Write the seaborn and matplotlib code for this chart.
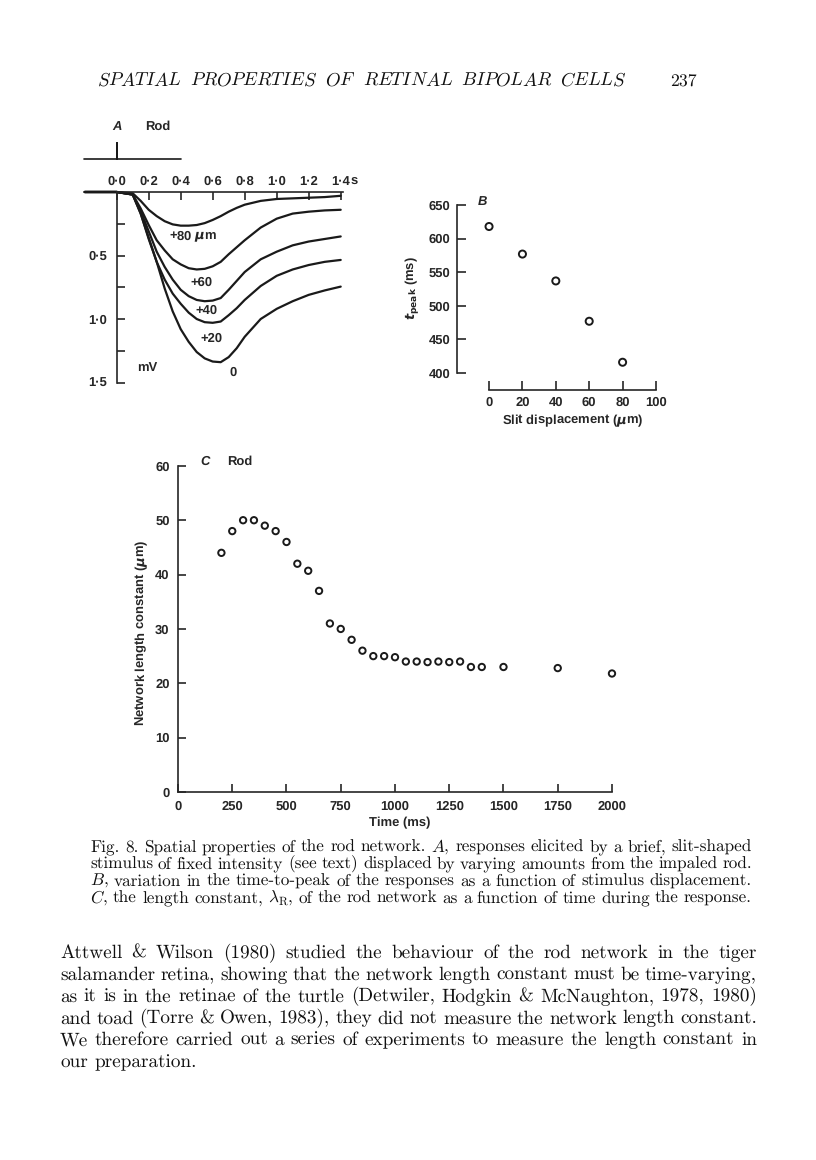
import numpy as np
import pandas as pd
import matplotlib
matplotlib.use("Agg")
import matplotlib.pyplot as plt
import seaborn as sns

# ---------------- data ----------------
# Panel A: fitted responses (mV, hyperpolarizing downwards) vs time (s)
t_A = [-0.2, 0.0, 0.1, 0.15, 0.2, 0.25, 0.3, 0.35, 0.4, 0.45, 0.5, 0.55, 0.6,
       0.65, 0.7, 0.75, 0.8, 0.9, 1.0, 1.1, 1.2, 1.3, 1.4]
v_80 = [0, 0, 0.01, 0.07, 0.14, 0.19, 0.23, 0.255, 0.265, 0.265, 0.26, 0.245, 0.22,
        0.19, 0.155, 0.125, 0.10, 0.07, 0.055, 0.05, 0.045, 0.04, 0.03]
v_60 = [0, 0, 0.02, 0.13, 0.26, 0.38, 0.46, 0.53, 0.57, 0.60, 0.61, 0.605, 0.585,
        0.55, 0.49, 0.435, 0.38, 0.28, 0.21, 0.17, 0.155, 0.145, 0.14]
v_40 = [0, 0, 0.02, 0.15, 0.31, 0.47, 0.59, 0.69, 0.77, 0.82, 0.85, 0.86, 0.855,
        0.835, 0.77, 0.70, 0.63, 0.53, 0.47, 0.42, 0.39, 0.37, 0.35]
v_20 = [0, 0, 0.02, 0.17, 0.37, 0.55, 0.69, 0.80, 0.88, 0.95, 1.00, 1.025, 1.03,
        1.02, 0.97, 0.915, 0.85, 0.74, 0.66, 0.61, 0.575, 0.55, 0.535]
v_0 = [0, 0, 0.02, 0.17, 0.36, 0.55, 0.76, 0.94, 1.08, 1.18, 1.26, 1.31, 1.335,
       1.34, 1.30, 1.23, 1.14, 1.00, 0.92, 0.86, 0.81, 0.775, 0.745]
disp_A = [80, 60, 40, 20, 0]
disp_labels_A = ["+80 $\\mu$m", "+60", "+40", "+20", "0"]
stim_t = [-0.204, 0.0, 0.0, 0.0, 0.402]
stim_v = [-0.26, -0.26, -0.386, -0.26, -0.26]
ticks_A_x = [0.0, 0.2, 0.4, 0.6, 0.8, 1.0, 1.2, 1.4]
ticklabels_A_x = ["0·0", "0·2", "0·4", "0·6", "0·8", "1·0", "1·2", "1·4"]
ticks_A_y = [0.25, 0.5, 0.75, 1.0, 1.25, 1.5]
ticklabels_A_y = ["", "0·5", "", "1·0", "", "1·5"]

# Panel B: time to peak vs slit displacement
disp_B = [0, 20, 40, 60, 80]
tpeak_B = [618, 577, 537, 477, 416]

# Panel C: network length constant vs time
time_C = [200, 250, 300, 350, 400, 450, 500, 550, 600, 650, 700, 750, 800, 850,
          900, 950, 1000, 1050, 1100, 1150, 1200, 1250, 1300, 1350, 1400, 1500,
          1750, 2000]
lam_C = [44, 48, 50, 50, 49, 48, 46, 42, 40.7, 37, 31, 30, 28, 26, 25, 25, 24.8,
         24, 24, 23.9, 24, 23.9, 24, 23, 23, 23, 22.8, 21.8]

# ---------------- style ----------------
sns.set_theme(style="ticks")
plt.rcParams["font.family"] = ["Liberation Sans", "DejaVu Sans"]
plt.rcParams["font.weight"] = "bold"
plt.rcParams["axes.labelweight"] = "bold"
plt.rcParams["axes.linewidth"] = 1.2
plt.rcParams["mathtext.fontset"] = "dejavusans"
plt.rcParams["mathtext.default"] = "it"
plt.rcParams["text.hinting"] = "no_hinting"
plt.rcParams["text.hinting_factor"] = 1

W, H = 816, 1160
fig = plt.figure(figsize=(W / 100, H / 100), dpi=100)
fig.patch.set_facecolor("white")


def fx(X):
    return X / W


def fy(Y):
    return 1 - Y / H


TS = 9.0  # tick label size
INK = "#1a1a1a"

# ---------------- Panel A ----------------
axA = fig.add_axes([fx(80), fy(390), (355 - 80) / W, (390 - 110) / H])
axA.set_facecolor("none")
rows = []
for d, vals in zip(disp_A, [v_80, v_60, v_40, v_20, v_0]):
    for t, v in zip(t_A, vals):
        rows.append({"t": t, "v": v, "disp": d})
dfA = pd.DataFrame(rows)
sns.lineplot(data=dfA, x="t", y="v", units="disp", estimator=None, color=INK,
             linewidth=1.6, ax=axA, sort=True)
axA.set_xlim((80 - 116.7) / 160, (355 - 116.7) / 160)
axA.set_ylim((390 - 192) / 127, (110 - 192) / 127)
axA.spines["right"].set_visible(False)
axA.spines["bottom"].set_visible(False)
axA.spines["top"].set_position(("data", 0))
axA.spines["top"].set_bounds(0, 1.415)
axA.spines["left"].set_position(("data", 0))
axA.spines["left"].set_bounds(0, 1.5)
axA.xaxis.tick_top()
axA.set_xticks(ticks_A_x)
axA.set_xticklabels(ticklabels_A_x)
axA.set_yticks(ticks_A_y)
axA.set_yticklabels(ticklabels_A_y)
axA.tick_params(axis="x", direction="in", length=6, width=1.2, pad=3, labelsize=TS,
                top=True, bottom=False, labeltop=True, labelbottom=False)
axA.tick_params(axis="y", direction="in", length=6, width=1.2, pad=7, labelsize=TS)
axA.set_xlabel("")
axA.set_ylabel("")
axA.plot(stim_t, stim_v, color=INK, lw=1.2, clip_on=False)
axA.text(0.0, -0.512, "A", style="italic", ha="center", va="center", fontsize=TS)
axA.text(0.258, -0.512, "Rod", ha="center", va="center", fontsize=TS)
axA.text(1.483, -0.09, "s", ha="center", va="center", fontsize=TS)
lab_pos = [(0.477, 0.346), (0.533, 0.709), (0.564, 0.93), (0.595, 1.157), (0.727, 1.425)]
for lab, (tx, ty) in zip(disp_labels_A, lab_pos):
    axA.text(tx, ty, lab, ha="center", va="center", fontsize=TS)
axA.text(0.19, 1.386, "mV", ha="center", va="center", fontsize=TS)

# ---------------- Panel B ----------------
axB = fig.add_axes([fx(457), fy(390), (670 - 457) / W, (390 - 195) / H])
axB.set_facecolor("none")
sns.scatterplot(x=disp_B, y=tpeak_B, ax=axB, marker="o", s=26,
                facecolors="none", edgecolor=INK, linewidth=1.4, clip_on=False)
axB.set_xlim(-19.2, 108.4)
axB.set_ylim(374.7, 664.9)
sns.despine(ax=axB)
axB.spines["left"].set_bounds(400, 650)
axB.spines["bottom"].set_bounds(0, 100)
axB.set_xticks([0, 20, 40, 60, 80, 100])
axB.set_yticks([400, 450, 500, 550, 600, 650])
axB.tick_params(direction="in", length=6.5, width=1.2, pad=5, labelsize=TS)
axB.set_xlabel("Slit displacement ($\\mu$m)", fontsize=TS, va="center")
axB.xaxis.set_label_coords((573 - 457) / 213, (390 - 421) / 195)
axB.set_ylabel("$t_{\\mathrm{peak}}$ (ms)", fontsize=TS, va="center", ha="center")
axB.yaxis.set_label_coords((412 - 457) / 213, (390 - 288) / 195)
axB.text((482 - 489) / 1.67, 650 - (202 - 205) * 250 / 168, "B",
         style="italic", ha="center", va="center", fontsize=TS)

# ---------------- Panel C ----------------
axC = fig.add_axes([fx(178), fy(792), (625 - 178) / W, (792 - 455) / H])
axC.set_facecolor("none")
sns.scatterplot(x=time_C, y=lam_C, ax=axC, marker="o", s=21,
                facecolors="none", edgecolor=INK, linewidth=1.4, clip_on=False)
axC.set_xlim(0, 2060)
axC.set_ylim(0, 62)
sns.despine(ax=axC)
axC.spines["left"].set_bounds(0, 60)
axC.spines["bottom"].set_bounds(0, 2000)
axC.set_xticks([0, 250, 500, 750, 1000, 1250, 1500, 1750, 2000])
axC.set_yticks([0, 10, 20, 30, 40, 50, 60])
axC.tick_params(direction="in", length=6, width=1.2, pad=6, labelsize=TS)
axC.set_xlabel("Time (ms)", fontsize=TS, va="center")
axC.xaxis.set_label_coords((400 - 178) / 447, (792 - 823) / 337)
axC.set_ylabel("Network length constant ($\\mu$m)", fontsize=TS,
               va="center", ha="center")
axC.yaxis.set_label_coords((142 - 178) / 447, (792 - 633) / 337)
axC.text((205 - 178) / 0.217, (792 - 462) / 5.433, "C", style="italic",
         ha="center", va="center", fontsize=TS)
axC.text((240 - 178) / 0.217, (792 - 462) / 5.433, "Rod",
         ha="center", va="center", fontsize=TS)

# ---------------- page text ----------------
renderer = fig.canvas.get_renderer()
SERIF = "cmr10"


def measure(words, size, family):
    ws = []
    for w in words:
        t = fig.text(0, 0, w, fontsize=size, family=family, math_fontfamily="cm",
                     fontweight="normal")
        ws.append(t.get_window_extent(renderer).width)
        t.remove()
    return ws


def fit_size(lines, width, family, s0=12.0, spacefrac=0.33):
    worst = 0
    for ln in lines:
        words = ln.split(" ")
        ws = measure(words, s0, family)
        nat = sum(ws) + (len(words) - 1) * spacefrac * s0 * 100 / 72
        worst = max(worst, nat)
    return s0 * width / worst


def place_line(line, x0, x1, ybase, size, family, justify=True, spacefrac=0.33):
    words = line.split(" ")
    ts = [fig.text(fx(x0), fy(ybase), w, fontsize=size, family=family,
                   math_fontfamily="cm", fontweight="normal",
                   ha="left", va="baseline", color="#111111")
          for w in words]
    ws = [t.get_window_extent(renderer).width for t in ts]
    if justify and len(ws) > 1:
        gap = (x1 - x0 - sum(ws)) / (len(ws) - 1)
    else:
        gap = spacefrac * size * 100 / 72
    x = x0
    for t, w in zip(ts, ws):
        t.set_x(fx(x))
        x += w + gap


header_words = ["SPATIAL", "PROPERTIES", "OF", "RETINAL", "BIPOLAR", "CELLS"]
header = " ".join("$\\mathit{" + w + "}$" for w in header_words)
hs = fit_size([header], 530, SERIF, spacefrac=0.4)
place_line(header, 97, 627, 86, hs, SERIF)
fig.text(fx(697), fy(86), "237", fontsize=hs * 0.95, family=SERIF, fontweight="normal",
         ha="right", va="baseline", color="#111111")

caption = [
    "Fig. 8. Spatial properties of the rod network. $\\mathit{A}$, responses elicited by a brief, slit-shaped",
    "stimulus of fixed intensity (see text) displaced by varying amounts from the impaled rod.",
    "$\\mathit{B}$, variation in the time-to-peak of the responses as a function of stimulus displacement.",
    "$\\mathit{C}$, the length constant, $\\lambda_{\\mathrm{R}}$, of the rod network as a function of time during the response.",
]
cs = fit_size(caption, 752 - 90, SERIF, spacefrac=0.28)
for i, ln in enumerate(caption):
    place_line(ln, 90, 752, 852 + 17 * i, cs, SERIF)

body = [
    "Attwell & Wilson (1980) studied the behaviour of the rod network in the tiger",
    "salamander retina, showing that the network length constant must be time-varying,",
    "as it is in the retinae of the turtle (Detwiler, Hodgkin & McNaughton, 1978, 1980)",
    "and toad (Torre & Owen, 1983), they did not measure the network length constant.",
    "We therefore carried out a series of experiments to measure the length constant in",
    "our preparation.",
]
bs = fit_size(body[:-1], 757 - 60, SERIF, spacefrac=0.28)
for i, ln in enumerate(body):
    place_line(ln, 60, 757, 958 + 21.8 * i, bs, SERIF, justify=(i < len(body) - 1))

fig.savefig("out.png", dpi=100, facecolor="white")
